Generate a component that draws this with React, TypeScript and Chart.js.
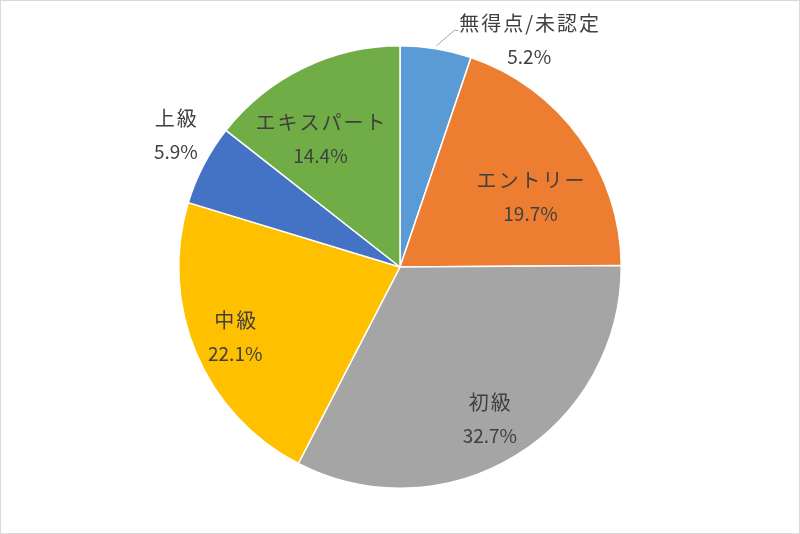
import { useEffect, useRef } from "react";
import { Chart, registerables } from "chart.js";
Chart.register(...registerables);

const categories = ["無得点/未認定", "エントリー", "初級", "中級", "上級", "エキスパート"];
const shares = [5.2, 19.7, 32.7, 22.1, 5.9, 14.4];
const percentLabels = ["5.2%", "19.7%", "32.7%", "22.1%", "5.9%", "14.4%"];
const colors = ["#5B9BD5", "#ED7D31", "#A5A5A5", "#FFC000", "#4472C4", "#70AD47"];

// label placement (style): radial factor of outer radius, angular shift in degrees, leader line
const labelRadius = [1.18, 0.67, 0.8, 0.81, 1.175, 0.68];
const labelShift = [20.3, 7.5, 1, -0.3, 2.9, -6];
const labelLeader = [true, false, false, false, false, false];

const NAME_FONT = '20px "Noto Sans CJK JP", "Noto Sans", sans-serif';
const NUM_FONT = '19px "Noto Sans CJK JP", "Noto Sans", sans-serif';
const NAME_SPACING = 2;
const TEXT_COLOR = "#404040";
const LINE_GAP = 33.5;

const framePlugin = {
  id: "frame",
  beforeDraw(chart: any) {
    const ctx = chart.ctx;
    ctx.save();
    ctx.fillStyle = "#ffffff";
    ctx.fillRect(0, 0, chart.width, chart.height);
    ctx.strokeStyle = "#D9D9D9";
    ctx.lineWidth = 1;
    ctx.strokeRect(0.5, 0.5, chart.width - 1, chart.height - 1);
    ctx.restore();
  },
};

const labelPlugin = {
  id: "pieLabels",
  afterDatasetsDraw(chart: any) {
    const ctx = chart.ctx;
    const meta = chart.getDatasetMeta(0);
    ctx.save();
    ctx.fillStyle = TEXT_COLOR;
    ctx.textAlign = "center";
    ctx.textBaseline = "middle";
    meta.data.forEach((arc: any, i: number) => {
      const p = arc.getProps(["x", "y", "startAngle", "endAngle", "outerRadius"], true);
      const mid = (p.startAngle + p.endAngle) / 2;
      const a = mid + (labelShift[i] * Math.PI) / 180;
      const r = p.outerRadius * labelRadius[i];
      const cx = p.x + Math.cos(a) * r;
      const cy = p.y + Math.sin(a) * r;
      const y1 = cy - LINE_GAP / 2;
      const y2 = cy + LINE_GAP / 2;
      ctx.font = NAME_FONT;
      (ctx as any).letterSpacing = NAME_SPACING + "px";
      ctx.fillText(categories[i], cx + NAME_SPACING / 2, y1);
      const w = ctx.measureText(categories[i]).width - NAME_SPACING;
      (ctx as any).letterSpacing = "0px";
      ctx.font = NUM_FONT;
      ctx.fillText(percentLabels[i], cx, y2);
      if (labelLeader[i]) {
        const left = cx - w / 2;
        const sx = p.x + Math.cos(mid) * (p.outerRadius + 3);
        const sy = p.y + Math.sin(mid) * (p.outerRadius + 3);
        ctx.save();
        ctx.strokeStyle = "#A6A6A6";
        ctx.lineWidth = 1;
        ctx.beginPath();
        ctx.moveTo(sx, sy);
        ctx.lineTo(left - 5, y1 + 7);
        ctx.lineTo(left - 1, y1 + 7);
        ctx.stroke();
        ctx.restore();
      }
    });
    ctx.restore();
  },
};

export default function App() {
  const ref = useRef<HTMLCanvasElement | null>(null);
  useEffect(() => {
    if (!ref.current) return;
    const chart = new Chart(ref.current, {
      type: "pie",
      data: {
        labels: categories,
        datasets: [
          {
            data: shares,
            backgroundColor: colors,
            borderColor: "#ffffff",
            borderWidth: 1.5,
          },
        ],
      },
      options: {
        responsive: false,
        animation: false,
        layout: { padding: { top: 45, bottom: 45, left: 0, right: 0 } },
        plugins: {
          legend: { display: false },
          tooltip: { enabled: false },
        },
      },
      plugins: [framePlugin, labelPlugin],
    });
    return () => chart.destroy();
  }, []);
  return (
    <div style={{ position: "absolute", left: 0, top: 0, width: 800, height: 534 }}>
      <canvas ref={ref} width={800} height={534} style={{ width: 800, height: 534, display: "block" }} />
    </div>
  );
}
